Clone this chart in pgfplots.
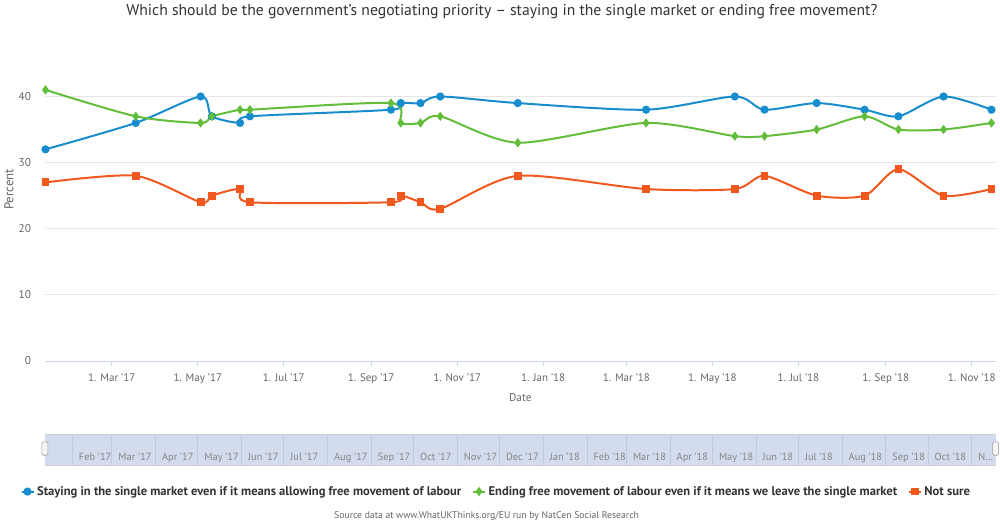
\documentclass[border=0pt]{standalone}
\usepackage{fontspec}
\setmainfont{PT Sans}
\usepackage{pgfplots}
\pgfplotsset{compat=1.18}

\definecolor{sblue}{RGB}{24,141,206}
\definecolor{sgreen}{RGB}{98,190,58}
\definecolor{sorange}{RGB}{240,88,30}
\definecolor{gridgrey}{HTML}{E6E6E6}
\definecolor{axisblue}{HTML}{CCD6EB}
\definecolor{labgrey}{HTML}{666666}
\definecolor{navfill}{HTML}{D3DCEE}
\definecolor{navline}{HTML}{BFC8DD}

% x values are days counted from 1 Jan 2017
\begin{document}
\begin{tikzpicture}
\path (0,0) rectangle (750pt,395.25pt);

\node[font=\fontsize{11.8pt}{13pt}\selectfont, text=black!80] at (376.5pt,387pt)
  {Which should be the government’s negotiating priority – staying in the single market or ending free movement?};

\begin{axis}[
  name=main,
  at={(33pt,124.5pt)}, anchor=south west,
  scale only axis, width=714.75pt, height=238.5pt,
  xmin=11.6, xmax=686, ymin=0, ymax=48,
  /pgf/number format/assume math mode=true,
  axis x line*=bottom, axis y line*=left,
  x axis line style={draw=axisblue, -},
  y axis line style={draw=none},
  xtick={59,120,181,243,304,365,424,485,546,608,669},
  xticklabels={1. Mar '17,1. May '17,1. Jul '17,1. Sep '17,1. Nov '17,1. Jan '18,1. Mar '18,1. May '18,1. Jul '18,1. Sep '18,1. Nov '18},
  x tick style={draw=axisblue, line width=0.6pt},
  tick align=outside, major tick length=4pt,
  xticklabel style={font=\fontsize{8.25pt}{9pt}\selectfont, text=labgrey, yshift=-2pt},
  ytick={10,20,30,40},
  extra y ticks={0},
  extra y tick style={grid=none},
  yticklabel style={font=\fontsize{8.5pt}{9pt}\selectfont, text=labgrey, xshift=-3pt},
  ymajorgrids, grid style={draw=gridgrey, line width=0.75pt},
  y tick style={draw=none},
  xlabel={Date},
  xlabel style={font=\fontsize{8.5pt}{9pt}\selectfont, text=labgrey, at={(axis description cs:0.5,0)}, anchor=center, yshift=-27.75pt},
  ylabel={Percent},
  ylabel style={font=\fontsize{9.6pt}{10pt}\selectfont, text=labgrey, at={(axis description cs:0,0.54)}, anchor=center, yshift=27pt},
  every axis plot/.append style={line width=1.5pt, smooth, tension=0.45},
  legend columns=3,
  legend style={at={(axis description cs:0.475,-0.412)}, anchor=center, draw=none,
    font=\bfseries\fontsize{9.45pt}{10pt}\selectfont, text=black!80,
    /tikz/every even column/.append style={column sep=6pt}},
  legend image code/.code={\draw[mark repeat=2,mark phase=2] plot coordinates {(0pt,0pt) (4.5pt,0pt) (9pt,0pt)};},
]
\addplot[sblue, mark=*, mark size=2.3pt, mark options={solid}] coordinates {
 (12,32) (76,36) (122,40) (130,37) (150,36) (157,37) (257,38) (264,39) (278,39) (292,40)
 (347,39) (438,38) (501,40) (522,38) (559,39) (593,38) (617,37) (649,40) (683,38)};
\addlegendentry{Staying in the single market even if it means allowing free movement of labour}
\addplot[sgreen, mark=diamond*, mark size=2.3pt, mark options={solid}] coordinates {
 (12,41) (76,37) (122,36) (130,37) (150,38) (157,38) (257,39) (264,36) (278,36) (292,37)
 (347,33) (438,36) (501,34) (522,34) (559,35) (593,37) (617,35) (649,35) (683,36)};
\addlegendentry{Ending free movement of labour even if it means we leave the single market}
\addplot[sorange, mark=square*, mark size=2.2pt, mark options={solid}] coordinates {
 (12,27) (76,28) (122,24) (130,25) (150,26) (157,24) (257,24) (264,25) (278,24) (292,23)
 (347,28) (438,26) (501,26) (522,28) (559,25) (593,25) (617,29) (649,25) (683,26)};
\addlegendentry{Not sure}
\end{axis}

\begin{axis}[
  name=nav,
  at={(33pt,45.75pt)}, anchor=south west,
  scale only axis, width=714.75pt, height=23.25pt,
  xmin=11.6, xmax=686, ymin=0, ymax=1,
  axis background/.style={fill=navfill},
  axis line style={draw=none},
  ytick=\empty,
  xtick={31,59,90,120,151,181,212,243,273,304,334,365,396,424,455,485,516,546,577,608,638,669},
  xticklabels={Feb '17,Mar '17,Apr '17,May '17,Jun '17,Jul '17,Aug '17,Sep '17,Oct '17,Nov '17,Dec '17,Jan '18,Feb '18,Mar '18,Apr '18,May '18,Jun '18,Jul '18,Aug '18,Sep '18,Oct '18,{N\ldots}},
  xmajorgrids, grid style={draw=navline, line width=0.5pt},
  x tick style={draw=none},
  xticklabel style={font=\fontsize{7.8pt}{9pt}\selectfont, text=labgrey!80, anchor=base west, yshift=4pt, xshift=1.5pt},
  clip=false,
]
\addplot[draw=none] coordinates {(11.6,0) (686,1)};
\draw[draw=gray!40, line width=0.6pt] (rel axis cs:0,0) -- (rel axis cs:1,0);
\draw[draw=gray!40, line width=0.6pt] (rel axis cs:0,1) -- (rel axis cs:1,1);
\node[draw=gray!80, fill=gray!8, rounded corners=1pt, minimum width=4.5pt, minimum height=10pt, inner sep=0pt] at (rel axis cs:0,0.55) {};
\node[draw=gray!80, fill=gray!8, rounded corners=1pt, minimum width=4.5pt, minimum height=10pt, inner sep=0pt] at (rel axis cs:1,0.55) {};
\end{axis}

\node[font=\fontsize{7.3pt}{8pt}\selectfont, text=labgrey] at (365pt,7.5pt)
  {Source data at www.WhatUKThinks.org/EU run by NatCen Social Research};
\end{tikzpicture}
\end{document}
